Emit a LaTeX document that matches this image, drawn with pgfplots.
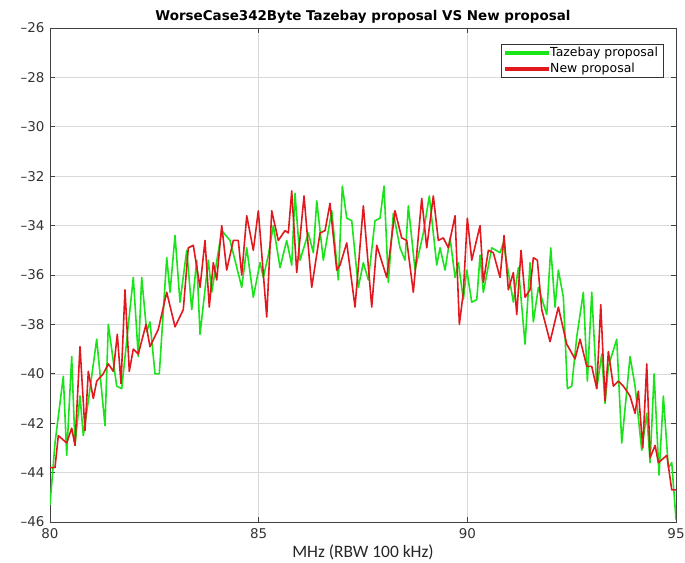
\documentclass[border=0pt]{standalone}
\usepackage{fontspec}
\setmainfont{DejaVu Sans}
\newfontfamily\calib{Carlito}
\usepackage{pgfplots}
\usepackage{pgfplotstable}
\pgfplotsset{compat=1.18}
\definecolor{mgreen}{RGB}{25,228,25}
\definecolor{mred}{RGB}{225,25,30}

\pgfplotstableread{
x y
80.000 -45.3
80.120 -42.8
80.319 -40.1
80.400 -43.3
80.520 -39.3
80.599 -42.9
80.719 -40.9
80.798 -42.5
80.918 -41.1
81.119 -38.6
81.318 -42.1
81.397 -38.0
81.598 -40.5
81.718 -40.6
81.996 -36.1
82.116 -39.3
82.197 -36.1
82.317 -38.3
82.396 -37.9
82.516 -40.0
82.619 -40.0
82.797 -35.3
82.876 -36.7
82.996 -34.4
83.115 -37.1
83.276 -35.0
83.396 -37.4
83.516 -35.4
83.595 -38.4
83.793 -35.4
83.875 -36.7
84.115 -34.2
84.313 -34.6
84.594 -36.5
84.714 -34.9
84.872 -36.9
85.032 -35.5
85.112 -36.1
85.231 -35.2
85.351 -34.0
85.512 -35.7
85.672 -34.6
85.792 -35.6
85.871 -32.7
85.991 -35.4
86.190 -34.3
86.310 -35.1
86.391 -33.0
86.549 -35.4
86.751 -33.4
86.909 -36.2
87.005 -32.4
87.110 -33.7
87.230 -33.8
87.388 -36.5
87.508 -35.5
87.628 -36.2
87.788 -33.8
87.908 -33.7
88.004 -32.4
88.107 -36.3
88.227 -33.5
88.387 -34.9
88.507 -35.4
88.586 -33.2
88.747 -35.8
88.946 -34.3
89.089 -32.8
89.267 -35.6
89.346 -34.9
89.466 -35.8
89.586 -34.5
89.706 -36.1
89.785 -35.5
89.904 -37.0
89.986 -35.8
90.106 -37.1
90.226 -37.0
90.305 -35.2
90.384 -36.7
90.585 -34.9
90.784 -35.1
90.863 -34.7
91.103 -37.1
91.223 -35.7
91.383 -38.8
91.503 -35.5
91.582 -37.9
91.702 -36.5
91.903 -37.6
91.999 -34.9
92.102 -37.3
92.181 -35.8
92.301 -36.9
92.397 -40.6
92.502 -40.5
92.622 -38.5
92.780 -36.7
92.876 -40.3
92.981 -36.7
93.101 -40.6
93.221 -39.2
93.300 -41.2
93.379 -39.7
93.580 -38.6
93.700 -42.8
93.899 -39.3
94.019 -40.5
94.179 -43.1
94.299 -41.6
94.379 -43.6
94.475 -40.0
94.594 -44.1
94.697 -40.9
94.817 -43.8
94.898 -43.6
95.000 -45.9
}\greentab

\pgfplotstableread{
x y
80.000 -43.8
80.120 -43.8
80.199 -42.5
80.400 -42.8
80.520 -42.2
80.599 -42.9
80.719 -38.9
80.839 -42.3
80.918 -39.9
81.038 -41.0
81.119 -40.3
81.277 -40.0
81.397 -39.6
81.517 -39.9
81.613 -38.4
81.701 -40.4
81.797 -36.6
81.900 -39.9
81.996 -39.0
82.116 -39.2
82.301 -38.0
82.396 -38.9
82.595 -38.2
82.797 -36.7
82.996 -38.1
83.194 -37.4
83.314 -34.9
83.434 -34.8
83.595 -36.5
83.714 -34.6
83.817 -37.3
83.913 -35.5
83.995 -36.2
84.115 -34.0
84.234 -35.8
84.393 -34.6
84.512 -34.6
84.594 -36.0
84.714 -33.6
84.872 -35.0
84.992 -33.4
85.193 -37.7
85.313 -33.4
85.471 -34.6
85.632 -34.2
85.711 -34.3
85.792 -32.6
85.912 -35.9
86.087 -32.8
86.271 -36.5
86.470 -34.3
86.590 -34.2
86.710 -33.1
86.870 -35.8
86.949 -35.6
87.110 -34.7
87.309 -37.3
87.508 -33.2
87.709 -37.3
87.829 -34.8
88.069 -36.1
88.267 -33.4
88.428 -34.5
88.548 -34.6
88.706 -36.7
88.907 -32.9
89.027 -34.9
89.185 -32.8
89.305 -34.6
89.425 -34.5
89.545 -34.9
89.706 -33.6
89.809 -38.0
89.904 -36.7
90.000 -33.7
90.106 -35.4
90.305 -34.0
90.384 -36.3
90.504 -35.0
90.623 -35.1
90.784 -36.1
90.880 -34.4
90.983 -36.6
91.103 -35.9
91.184 -37.6
91.287 -35.0
91.383 -36.9
91.503 -36.6
91.582 -35.3
91.678 -35.4
91.783 -37.4
91.982 -38.7
92.181 -37.3
92.382 -38.8
92.581 -39.4
92.701 -38.6
92.862 -39.7
92.981 -39.7
93.101 -40.6
93.197 -37.2
93.300 -41.1
93.379 -39.1
93.499 -40.5
93.619 -40.3
93.739 -40.5
93.899 -40.9
94.019 -41.6
94.098 -40.7
94.204 -43.0
94.299 -39.6
94.379 -43.4
94.499 -42.9
94.578 -43.6
94.780 -43.3
94.898 -44.7
95.000 -44.7
}\redtab

\begin{document}
\begin{tikzpicture}
\begin{axis}[
  scale only axis, width=626bp, height=494bp,
  xmin=80, xmax=95, ymin=-46, ymax=-26,
  xtick={80,85,90,95}, ytick={-46,-44,-42,-40,-38,-36,-34,-32,-30,-28,-26},
  yticklabels={–46,–44,–42,–40,–38,–36,–34,–32,–30,–28,–26},
  grid=major, major grid style={black!15, line width=0.6pt},
  axis line style={black!75, line width=0.7pt},
  tick style={black!75, line width=0.7pt},
  major tick length=5bp,
  ticklabel style={font=\fontsize{13.5}{15}\selectfont, text=black!80},
  xticklabel style={yshift=-3bp},
  yticklabel style={xshift=-2bp},
  /pgf/number format/assume math mode=true,
  title={\bfseries WorseCase342Byte Tazebay proposal VS New proposal},
  title style={font=\fontsize{13.5}{15}\selectfont, yshift=-5bp},
  xlabel={\calib MHz (RBW 100 kHz)},
  xlabel style={font=\fontsize{17.5}{19}\selectfont, text=black!85, yshift=1bp},
  legend cell align=left,
  legend style={at={(0.980,0.968)}, anchor=north east,
    font=\fontsize{12.5}{13}\selectfont, draw=black!80, line width=0.7pt,
    inner xsep=4pt, inner ysep=2pt, row sep=2.5pt,
    nodes={inner sep=1.2pt}},
  legend image code/.code={\fill[#1] (0bp,-1.2bp) rectangle (43bp,1.2bp);},
]
\addplot[mgreen, line width=1.6pt, line join=round, forget plot] table[x=x,y=y] {\greentab};
\addplot[mred, line width=1.6pt, line join=round, forget plot] table[x=x,y=y] {\redtab};
\addlegendimage{mgreen}
\addlegendentry{Tazebay proposal}
\addlegendimage{mred}
\addlegendentry{New proposal}
\end{axis}
\pgfresetboundingbox
\path ([shift={(-50bp,-41bp)}]current axis.south west) rectangle ([shift={(9bp,28bp)}]current axis.north east);
\end{tikzpicture}
\end{document}
